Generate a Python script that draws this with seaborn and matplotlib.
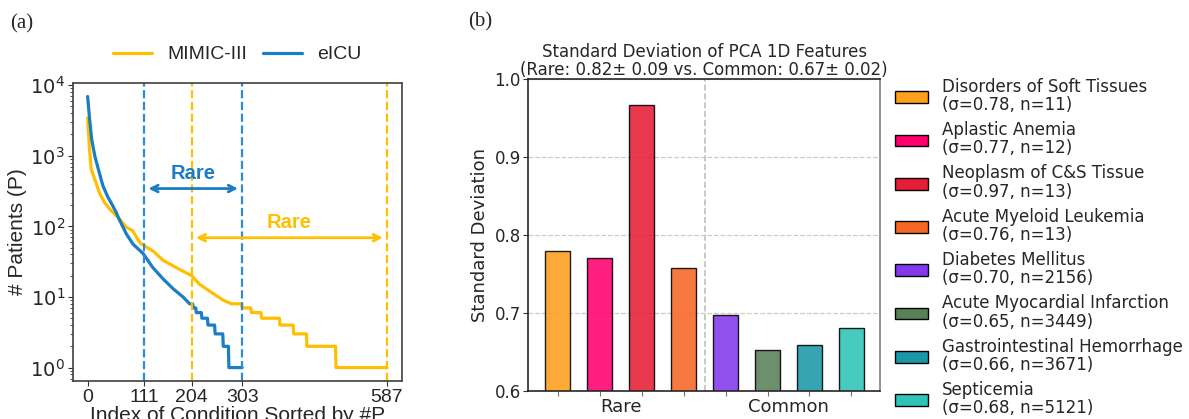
import numpy as np
import pandas as pd
import matplotlib
matplotlib.use("Agg")
import matplotlib.pyplot as plt
import seaborn as sns
from matplotlib.patches import Patch

# ---------------- data: panel (a) ----------------
mimic_idx = [0, 4, 7, 14, 23, 33, 45, 53, 60, 76, 88, 96, 103, 111, 128, 148, 174, 204,
             220, 240, 266, 282, 302, 303, 320, 321, 340, 341, 376, 377, 403, 404, 429,
             430, 486, 487, 587]
mimic_val = [3430, 1165, 645, 465, 300, 218, 170, 149, 134, 97, 87, 70, 58, 53, 45, 33, 26, 20,
             15, 12, 9, 8, 8, 7, 7, 6, 6, 5, 5, 4, 4, 3, 3,
             2, 2, 1, 1]
eicu_idx = [0, 4, 8, 14, 21, 30, 40, 44, 56, 60, 76, 89, 109, 128, 148, 168, 187, 200, 206,
            207, 212, 213, 223, 224, 235, 236, 249, 250, 265, 266, 276, 277, 303]
eicu_val = [6900, 3250, 1700, 1000, 645, 375, 257, 230, 158, 134, 78, 56, 41, 26, 18, 13, 10, 8, 8,
            7, 7, 6, 6, 5, 5, 4, 4, 3, 3, 2, 2, 1, 1]
series_names = ["MIMIC-III", "eICU"]
mimic_rare = [204, 587]
eicu_rare = [111, 303]
xtick_a = [0, 111, 204, 303, 587]

# ---------------- data: panel (b) ----------------
conditions = ["Disorders of Soft Tissues", "Aplastic Anemia", "Neoplasm of C&S Tissue",
              "Acute Myeloid Leukemia", "Diabetes Mellitus", "Acute Myocardial Infarction",
              "Gastrointestinal Hemorrhage", "Septicemia"]
std_vals = [0.780, 0.770, 0.967, 0.758, 0.698, 0.653, 0.659, 0.681]
sigma_txt = ["0.78", "0.77", "0.97", "0.76", "0.70", "0.65", "0.66", "0.68"]
n_vals = [11, 12, 13, 13, 2156, 3449, 3671, 5121]
groups = ["Rare", "Common"]
bar_colors = ["#FF9F1C", "#FF006E", "#E71D36", "#F86624", "#8338EC", "#588157", "#1B98A8", "#2EC4B6"]

YELLOW = "#FFBF00"
BLUE = "#1B7DC4"

sns.set_theme(style="white")
plt.rcParams["font.family"] = ["DejaVu Sans"]

fig = plt.figure(figsize=(11.89, 4.19), dpi=100)
ax1 = fig.add_axes([0.0611, 0.0907, 0.2770, 0.7112])
ax2 = fig.add_axes([0.4443, 0.0668, 0.2958, 0.7446])

# ---------------- panel (a) ----------------
AF = "Liberation Sans"
df_m = pd.DataFrame({"idx": mimic_idx, "P": mimic_val})
df_e = pd.DataFrame({"idx": eicu_idx, "P": eicu_val})
sns.lineplot(data=df_m, x="idx", y="P", color=YELLOW, lw=2.3, ax=ax1, label=series_names[0])
sns.lineplot(data=df_e, x="idx", y="P", color=BLUE, lw=2.3, ax=ax1, label=series_names[1])
ax1.set_yscale("log")
ax1.set_xlim(-29.35, 616.35)
ax1.set_ylim(10 ** -0.19, 10 ** 4.03)
for v in eicu_rare:
    ax1.axvline(v, color="#2E8BD6", ls="--", lw=1.6)
for v in mimic_rare:
    ax1.axvline(v, color=YELLOW, ls="--", lw=1.6)

ax1.annotate("", xy=(eicu_rare[0], 343), xytext=(eicu_rare[1], 343),
             arrowprops=dict(arrowstyle="<->", color=BLUE, lw=2, shrinkA=3, shrinkB=3))
ax1.text(np.mean(eicu_rare), 415, "Rare", color=BLUE, fontsize=14.5, fontweight="bold",
         ha="center", va="bottom", family=AF)
ax1.annotate("", xy=(mimic_rare[0], 69), xytext=(mimic_rare[1], 69),
             arrowprops=dict(arrowstyle="<->", color=YELLOW, lw=2, shrinkA=3, shrinkB=3))
ax1.text(np.mean(mimic_rare), 82, "Rare", color=YELLOW, fontsize=14.5, fontweight="bold",
         ha="center", va="bottom", family=AF)

ax1.set_xticks(xtick_a)
ax1.set_xticklabels([str(t) for t in xtick_a], family=AF, fontsize=14)
ax1.set_yticks([1, 10, 100, 1000, 10000])
ax1.set_yticklabels([r"$10^{%d}$" % k for k in range(5)], fontsize=14)
ax1.tick_params(axis="both", which="major", direction="out", length=3.5, width=0.8,
                bottom=True, left=True, color="0.2", pad=2)
ax1.tick_params(axis="y", which="minor", direction="out", length=2, width=0.6,
                left=True, color="0.2")
ax1.set_xlabel("Index of Condition Sorted by #P", family=AF, fontsize=15, labelpad=0)
ax1.set_ylabel("# Patients (P)", family=AF, fontsize=15, labelpad=2)
for s in ax1.spines.values():
    s.set_color("0.25")
    s.set_linewidth(1.2)
leg1 = ax1.legend(loc="lower center", bbox_to_anchor=(0.5, 1.04), ncol=2, frameon=False,
                  prop={"family": AF, "size": 14}, handlelength=2.0, columnspacing=0.8,
                  handletextpad=0.8, borderaxespad=0)

# ---------------- panel (b) ----------------
df_b = pd.DataFrame({"cond": conditions, "std": std_vals})
sns.barplot(data=df_b, x="cond", y="std", hue="cond", order=conditions, hue_order=conditions,
            palette=bar_colors, saturation=1, width=0.6, edgecolor="black", linewidth=1.0,
            alpha=0.88, dodge=False, legend=False, ax=ax2)
ax2.set_ylim(0.6, 1.0)
ax2.set_xlim(-0.7, 7.68)
ax2.set_yticks([0.6, 0.7, 0.8, 0.9, 1.0])
ax2.set_yticklabels(["0.6", "0.7", "0.8", "0.9", "1.0"], fontsize=12)
ax2.set_xticks(range(len(conditions)))
ax2.set_xticklabels([""] * len(conditions))
ax2.set_xticks([1.5, 5.5], minor=True)
ax2.set_xticklabels(groups, minor=True, fontsize=13)
ax2.tick_params(axis="x", which="major", direction="out", length=3.5, width=0.8,
                bottom=True, color="0.45")
ax2.tick_params(axis="x", which="minor", length=0, pad=5)
ax2.tick_params(axis="y", which="major", direction="out", length=3.5, width=0.8,
                left=True, color="0.2", pad=2)
ax2.yaxis.grid(True, ls="--", color="0.8", lw=0.9)
ax2.set_axisbelow(True)
ax2.axvline(3.5, color="0.75", ls="--", lw=1.2)
ax2.set_xlabel("")
ax2.set_ylabel("Standard Deviation", fontsize=13, labelpad=4)
ax2.set_title("Standard Deviation of PCA 1D Features\n"
              "(Rare: 0.82± 0.09 vs. Common: 0.67± 0.02)", fontsize=12, pad=3, linespacing=1.0)
for s in ax2.spines.values():
    s.set_color("0.15")
    s.set_linewidth(1.2)
ax2.spines["right"].set_color("0.5")

handles = [Patch(facecolor=c, edgecolor="black", linewidth=1.0,
                 label=f"{name}\n(σ={s}, n={n})")
           for c, name, s, n in zip(bar_colors, conditions, sigma_txt, n_vals)]
leg2 = ax2.legend(handles=handles, loc="center left", bbox_to_anchor=(1.0, 0.46), frameon=False,
                  fontsize=12, labelspacing=0.42, borderaxespad=0.5)
for t in leg2.get_texts():
    t.set_linespacing(1.02)

# ---------------- panel labels ----------------
fig.text(10 / 1189, 1 - 24 / 419, "(a)", family="Liberation Serif", fontsize=15,
         ha="left", va="center")
fig.text(468 / 1189, 1 - 22 / 419, "(b)", family="Liberation Serif", fontsize=15,
         ha="left", va="center")

fig.savefig("out.png", dpi=100)
